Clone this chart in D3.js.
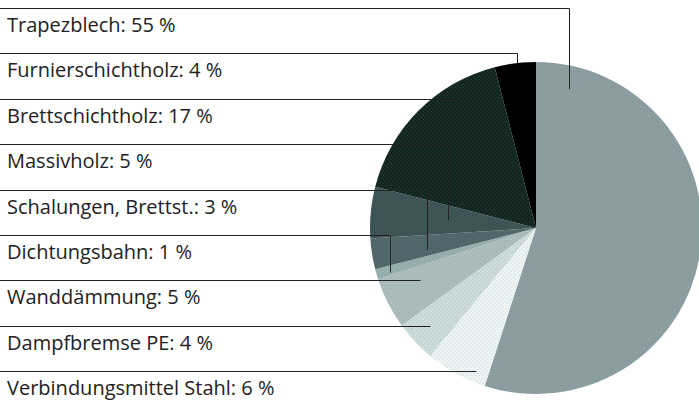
<!DOCTYPE html>
<html>
<head>
<meta charset="utf-8">
<script src="https://cdn.jsdelivr.net/npm/d3@7"></script>
<style>
  body { margin: 0; background: #fff; }
  svg { display: block; }
  text { font-family: "Open Sans", sans-serif; fill: #222; }
</style>
</head>
<body>
<div id="chart"></div>
<script>
// Daten (Anteile in %), Reihenfolge im Uhrzeigersinn ab 12 Uhr
const categories = [
  "Trapezblech",
  "Verbindungsmittel Stahl",
  "Dampfbremse PE",
  "Wanddämmung",
  "Dichtungsbahn",
  "Schalungen, Brettst.",
  "Massivholz",
  "Brettschichtholz",
  "Furnierschichtholz"
];
const values = [55, 6, 4, 5, 1, 3, 5, 17, 4];

// Reihenfolge der Beschriftungen von oben nach unten
const labelOrder = [
  "Trapezblech",
  "Furnierschichtholz",
  "Brettschichtholz",
  "Massivholz",
  "Schalungen, Brettst.",
  "Dichtungsbahn",
  "Wanddämmung",
  "Dampfbremse PE",
  "Verbindungsmittel Stahl"
];

// Farben: Grundton + Punktraster
const baseColors = ["#8a9f9f", "#eef4f4", "#c6d5d6", "#a7b9b9", "#93abab", "#4f6569", "#3c5254", "#14251f", "#000000"];
const dotColors  = ["#9585a6", "#c9dada", "#e3eeee", "#bccaca", "#a5baba", "#5d7378", "#485e60", "#1f4640", "#000000"];

// Führungslinien: Winkel (Grad, im Uhrzeigersinn ab oben) und Radius-Anteil; null = nur waagrecht
const leaderAngle  = [13.4, 202.8, 227, 245.6, 253, 258.6, 275.2, 329.2, 353.5];
const leaderRadius = [0.86, null, null, null, 0.92, 0.67, 0.53, null, 1.0];

const width = 699;
const height = 400;
const cx = 536, cy = 228, radius = 166;

const svg = d3.select("#chart").append("svg")
  .attr("width", width)
  .attr("height", height);

// Raster-Muster für die Flächen
const defs = svg.append("defs");
categories.forEach((c, i) => {
  const p = defs.append("pattern")
    .attr("id", "pat" + i)
    .attr("width", 4).attr("height", 4)
    .attr("patternUnits", "userSpaceOnUse");
  p.append("rect").attr("width", 4).attr("height", 4).attr("fill", baseColors[i]);
  p.append("rect").attr("x", 1).attr("y", 1).attr("width", 1).attr("height", 1).attr("fill", dotColors[i]);
  p.append("rect").attr("x", 3).attr("y", 3).attr("width", 1).attr("height", 1).attr("fill", dotColors[i]);
});

const pie = d3.pie().sort(null).value(d => d)(values);
const arc = d3.arc().innerRadius(0).outerRadius(radius);

const pieGroup = svg.append("g")
  .attr("transform", "translate(" + cx + "," + cy + ")");

pieGroup.selectAll("path")
  .data(pie)
  .join("path")
  .attr("d", arc)
  .attr("fill", (d, i) => "url(#pat" + i + ")");

// Beschriftungen
const yScale = d3.scaleLinear().domain([0, labelOrder.length - 1]).range([32, 395]);

const labelGroup = svg.append("g");

labelOrder.forEach((name, row) => {
  const i = categories.indexOf(name);
  const baseY = yScale(row);
  const lineY = Math.round(baseY - 24) + 0.5;
  const a = leaderAngle[i] * Math.PI / 180;
  let px, py;
  if (leaderRadius[i] === null) {
    // Schnittpunkt des Strahls mit der waagrechten Linie
    const t = (lineY - cy) / (-Math.cos(a));
    px = cx + t * Math.sin(a);
    py = lineY;
  } else {
    px = cx + radius * leaderRadius[i] * Math.sin(a);
    py = cy - radius * leaderRadius[i] * Math.cos(a);
  }
  px = Math.round(px) + 0.5;

  labelGroup.append("polyline")
    .attr("points", [[0, lineY], [px, lineY], [px, py]].map(p => p.join(",")).join(" "))
    .attr("fill", "none")
    .attr("stroke", "#222")
    .attr("stroke-width", 1);

  labelGroup.append("text")
    .attr("x", 7)
    .attr("y", baseY)
    .attr("font-size", 20)
    .text(name + ": " + values[i] + " %");
});
</script>
</body>
</html>
